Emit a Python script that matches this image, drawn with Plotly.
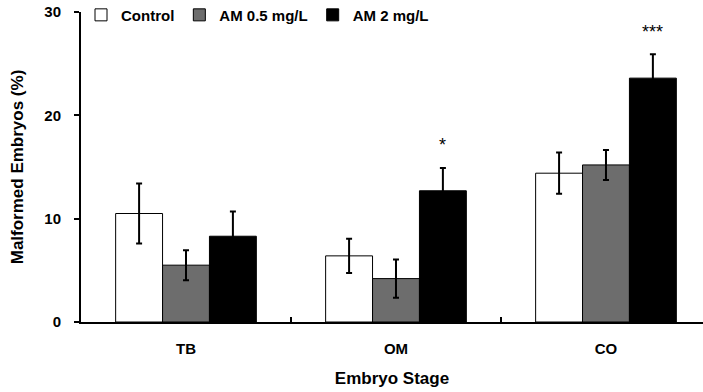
import plotly.graph_objects as go

stages = ["TB", "OM", "CO"]
series_names = ["Control", "AM 0.5 mg/L", "AM 2 mg/L"]
control = [10.5, 6.4, 14.4]
control_err = [2.9, 1.65, 2.0]
am05 = [5.5, 4.2, 15.2]
am05_err = [1.45, 1.85, 1.45]
am2 = [8.3, 12.7, 23.6]
am2_err = [2.4, 2.2, 2.3]
sig_labels = ["", "*", "***"]
y_ticks = [0, 10, 20, 30]

colors = ["#ffffff", "#6d6d6d", "#000000"]
font_family = "Liberation Sans, Arial, sans-serif"
bargap = 0.33

fig = go.Figure()
for name, vals, errs, col in zip(series_names, [control, am05, am2],
                                 [control_err, am05_err, am2_err], colors):
    fig.add_trace(go.Bar(
        x=stages, y=vals, name=name,
        marker=dict(color=col, line=dict(color="#000000", width=1)),
        error_y=dict(type="data", array=errs, visible=True,
                     color="#000000", thickness=2, width=3),
    ))

# significance markers above the AM 2 mg/L bars
bar_w = (1 - bargap) / 3
for i, lab in enumerate(sig_labels):
    if lab:
        fig.add_annotation(
            x=i + bar_w, y=am2[i] + am2_err[i] + 2.2, text=lab,
            showarrow=False, xref="x", yref="y",
            font=dict(family=font_family, size=18, color="#000000"),
        )

fig.update_layout(
    width=703, height=392,
    margin=dict(l=81, r=0, t=12, b=70, autoexpand=False),
    paper_bgcolor="#ffffff", plot_bgcolor="#ffffff",
    barmode="group", bargap=bargap, bargroupgap=0,
    hovermode=False,
    font=dict(family=font_family, color="#000000"),
    showlegend=True,
    legend=dict(orientation="h", x=0.0, xanchor="left", y=0.99, yanchor="middle",
                font=dict(family=font_family, size=15, color="#000000", weight="bold"),
                bgcolor="rgba(0,0,0,0)", itemwidth=30, tracegroupgap=0),
)
fig.update_xaxes(
    type="category", range=[-0.5, 2.462],
    showline=True, linecolor="#000000", linewidth=2,
    ticks="inside", ticklen=5, tickwidth=2, tickcolor="#000000", tickson="boundaries",
    tickfont=dict(family=font_family, size=15, color="#000000", weight="bold"),
    ticklabelstandoff=12, ticklabeloverflow="allow",
    showgrid=False, zeroline=False,
    title=dict(text="Embryo Stage", standoff=16,
               font=dict(family=font_family, size=17, color="#000000", weight="bold")),
)
fig.update_yaxes(
    range=[0, 30], tickvals=y_ticks,
    showline=True, linecolor="#000000", linewidth=2,
    ticks="outside", ticklen=5, tickwidth=2, tickcolor="#000000",
    tickfont=dict(family=font_family, size=15, color="#000000", weight="bold"),
    ticklabelstandoff=10, ticklabeloverflow="allow",
    showgrid=False, zeroline=False,
    title=dict(text="Malformed Embryos (%)", standoff=16,
               font=dict(family=font_family, size=17, color="#000000", weight="bold")),
)

# remove the browser's default 8px page margin so the figure fills the window
fig.write_html("out.html", config={"displayModeBar": False},
               post_script="document.body.style.margin='0';")
